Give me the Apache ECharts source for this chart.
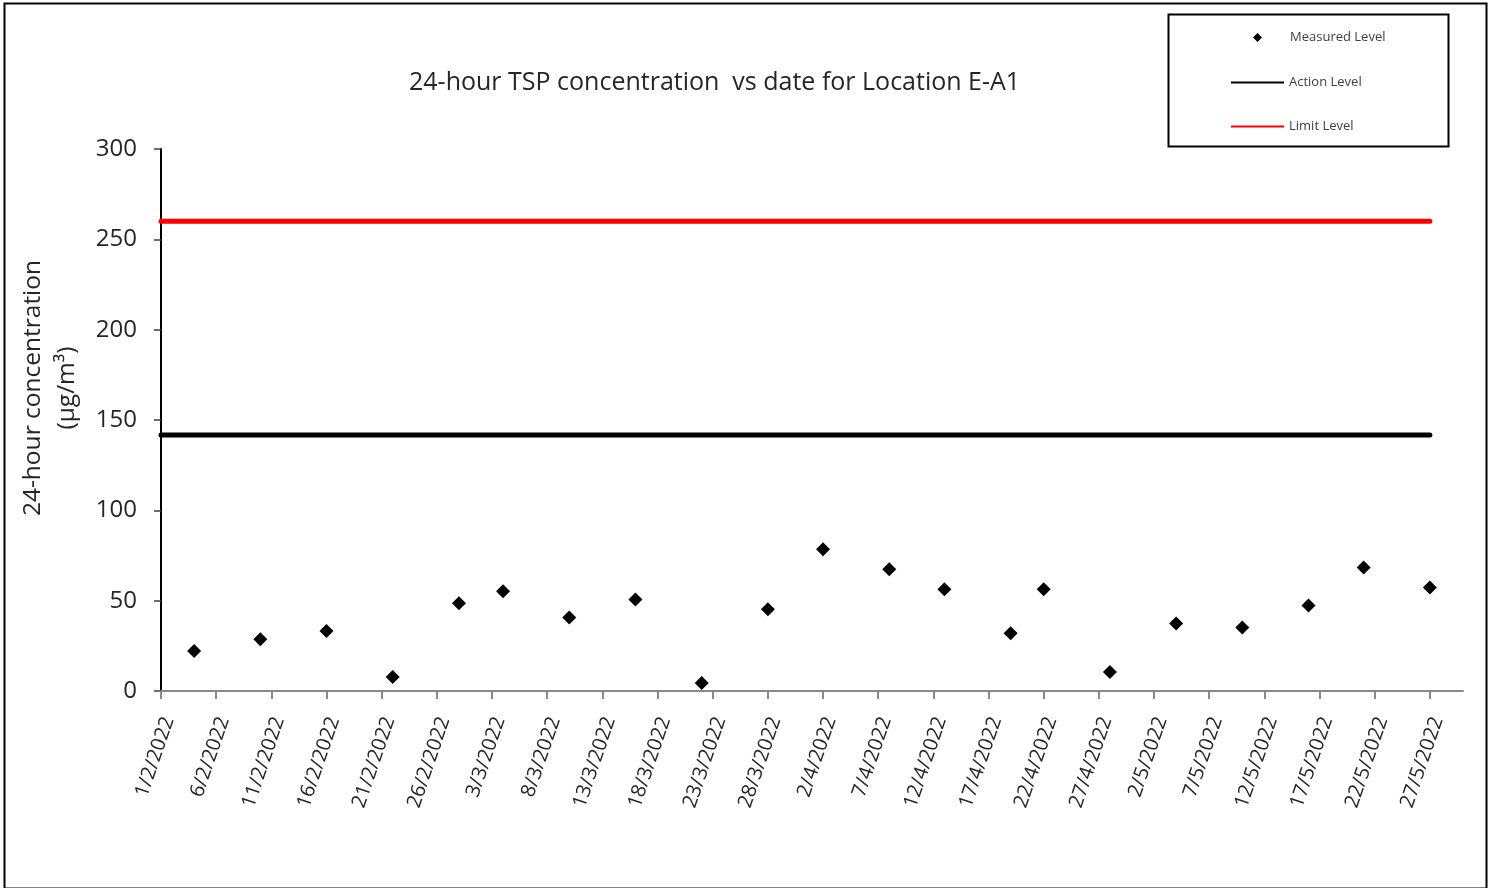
<!DOCTYPE html>
<html>
<head>
<meta charset="utf-8">
<script src="https://cdn.jsdelivr.net/npm/echarts@6/dist/echarts.min.js"></script>
<style>
html,body{margin:0;padding:0;background:#fff;}
#chart{width:1488px;height:888px;}
</style>
</head>
<body>
<div id="chart"></div>
<script>
// ---- data ----
var measuredDates = ['4/2/2022','10/2/2022','16/2/2022','22/2/2022','28/2/2022','4/3/2022','10/3/2022','16/3/2022','22/3/2022','28/3/2022','2/4/2022','8/4/2022','13/4/2022','19/4/2022','22/4/2022','28/4/2022','4/5/2022','10/5/2022','16/5/2022','21/5/2022','27/5/2022'];
var measuredLevel = [22.2, 28.6, 33.2, 7.8, 48.6, 55.2, 40.7, 50.6, 4.4, 45.3, 78.5, 67.4, 56.3, 32.0, 56.3, 10.5, 37.3, 35.1, 47.3, 68.4, 57.3];
var levelDates = ['1/2/2022','4/2/2022','10/2/2022','16/2/2022','22/2/2022','28/2/2022','4/3/2022','10/3/2022','16/3/2022','22/3/2022','28/3/2022','2/4/2022','8/4/2022','13/4/2022','19/4/2022','22/4/2022','28/4/2022','4/5/2022','10/5/2022','16/5/2022','21/5/2022','27/5/2022'];
var actionLevel = [141.7,141.7,141.7,141.7,141.7,141.7,141.7,141.7,141.7,141.7,141.7,141.7,141.7,141.7,141.7,141.7,141.7,141.7,141.7,141.7,141.7,141.7];
var limitLevel = [260,260,260,260,260,260,260,260,260,260,260,260,260,260,260,260,260,260,260,260,260,260];
var xTickLabels = ['1/2/2022','6/2/2022','11/2/2022','16/2/2022','21/2/2022','26/2/2022','3/3/2022','8/3/2022','13/3/2022','18/3/2022','23/3/2022','28/3/2022','2/4/2022','7/4/2022','12/4/2022','17/4/2022','22/4/2022','27/4/2022','2/5/2022','7/5/2022','12/5/2022','17/5/2022','22/5/2022','27/5/2022'];
var xAxisStart = '1/2/2022';
var xAxisEnd = '30/5/2022';

// ---- helpers ----
function ts(s) {
  var p = s.split('/');
  return Date.UTC(+p[2], +p[1] - 1, +p[0]);
}
function fmt(v) {
  var d = new Date(v);
  return d.getUTCDate() + '/' + (d.getUTCMonth() + 1) + '/' + d.getUTCFullYear();
}
function pairs(dates, vals) {
  return dates.map(function (d, i) { return [ts(d), vals[i]]; });
}

var FONT = '"Open Sans", "Noto Sans", sans-serif';
var chart = echarts.init(document.getElementById('chart'), null, {renderer: 'canvas'});
var xTicks = xTickLabels.map(ts);

chart.setOption({
  backgroundColor: '#ffffff',
  animation: false,
  textStyle: {fontFamily: FONT},
  title: {
    text: '24-hour TSP concentration  vs date for Location E-A1',
    left: 404,
    top: 65,
    textStyle: {fontFamily: FONT, fontSize: 25, fontWeight: 'normal', color: '#262626'}
  },
  legend: [
    {
      data: ['Measured Level'],
      icon: 'diamond',
      itemWidth: 9,
      itemHeight: 9,
      left: 1253,
      top: 31,
      padding: 0,
      selectedMode: false,
      textStyle: {fontFamily: FONT, fontSize: 13, color: '#404040', padding: [0, 0, 0, 23]}
    },
    {
      data: ['Action Level', 'Limit Level'],
      orient: 'vertical',
      icon: 'rect',
      itemWidth: 53,
      itemHeight: 2,
      itemGap: 31,
      left: 1231,
      top: 76,
      padding: 0,
      selectedMode: false,
      textStyle: {fontFamily: FONT, fontSize: 13, color: '#404040'}
    }
  ],
  graphic: [
    {type: 'rect', left: 2, top: 1, shape: {width: 1482, height: 885}, style: {fill: 'none', stroke: '#000', lineWidth: 2}, silent: true},
    {type: 'rect', left: 1166, top: 12, shape: {width: 280, height: 132}, style: {fill: 'none', stroke: '#000', lineWidth: 2}, silent: true}
  ],
  grid: {left: 161, right: 25, top: 149, bottom: 197, containLabel: false},
  xAxis: {
    type: 'value',
    min: ts(xAxisStart),
    max: ts(xAxisEnd),
    interval: 5 * 86400000,
    splitLine: {show: false},
    axisLine: {show: true, onZero: false, lineStyle: {color: '#898989', width: 2}},
    axisTick: {show: true, length: 8, lineStyle: {color: '#898989', width: 2}, customValues: xTicks},
    axisLabel: {
      customValues: xTicks,
      rotate: 71,
      margin: 24,
      fontSize: 20,
      lineHeight: 16,
      verticalAlign: 'top',
      fontFamily: FONT,
      color: '#262626',
      formatter: function (v) { return fmt(v); }
    }
  },
  yAxis: {
    type: 'value',
    min: 0,
    max: 300,
    interval: 50,
    splitLine: {show: false},
    axisLine: {show: true, lineStyle: {color: '#000', width: 2}},
    axisTick: {show: true, length: 7, lineStyle: {color: '#404040', width: 1.5}},
    axisLabel: {fontSize: 24, margin: 24, fontFamily: FONT, color: '#262626'},
    name: '24-hour concentration\n(µg/m³)',
    nameLocation: 'middle',
    nameRotate: 90,
    nameGap: 77,
    nameTextStyle: {fontSize: 24.5, lineHeight: 34, fontFamily: FONT, color: '#262626', padding: [0, 0, 0, 64]}
  },
  series: [
    {
      name: 'Limit Level',
      type: 'line',
      data: pairs(levelDates, limitLevel),
      symbol: 'none',
      color: '#ff0000',
      lineStyle: {color: '#ff0000', width: 5, cap: 'round'},
      z: 2
    },
    {
      name: 'Action Level',
      type: 'line',
      data: pairs(levelDates, actionLevel),
      symbol: 'none',
      color: '#000000',
      lineStyle: {color: '#000000', width: 5, cap: 'round'},
      z: 2
    },
    {
      name: 'Measured Level',
      type: 'scatter',
      data: pairs(measuredDates, measuredLevel),
      symbol: 'diamond',
      symbolSize: 14,
      itemStyle: {color: '#000000', opacity: 1},
      z: 3
    }
  ]
});
</script>
</body>
</html>
